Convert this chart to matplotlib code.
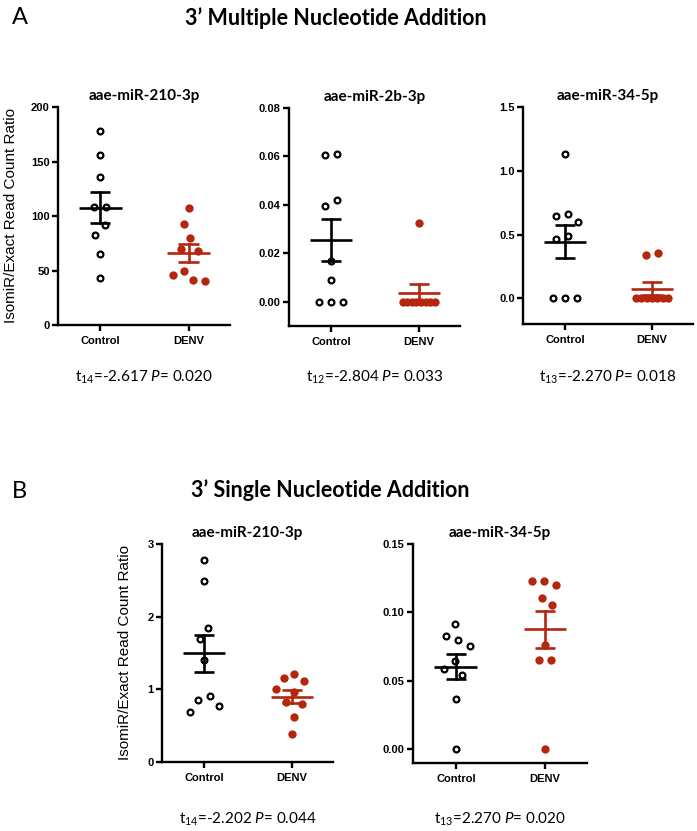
import numpy as np
import matplotlib
matplotlib.use("Agg")
import matplotlib.pyplot as plt

plt.rcParams['font.family'] = ['Lato', 'DejaVu Sans']
plt.rcParams['mathtext.fontset'] = 'custom'
plt.rcParams['mathtext.rm'] = 'Lato'
plt.rcParams['mathtext.it'] = 'Lato:italic'

# ---- data ----
groups = ['Control', 'DENV']

a1_ctrl = [178, 156, 136, 108, 108, 92, 83, 65, 43]
a1_denv = [107, 93, 80, 70, 68, 50, 46, 40, 41]

a2_ctrl = [0.0606, 0.0610, 0.0419, 0.0397, 0.0170, 0.0091, 0.0, 0.0, 0.0]
a2_denv = [0.0324, 0.0, 0.0, 0.0, 0.0, 0.0, 0.0, 0.0, 0.0]

a3_ctrl = [1.134, 0.66, 0.65, 0.597, 0.487, 0.469, 0.0, 0.0, 0.0]
a3_denv = [0.356, 0.338, 0.0, 0.0, 0.0, 0.0, 0.0, 0.0, 0.0]

b1_ctrl = [2.78, 2.49, 1.85, 1.69, 1.40, 0.91, 0.86, 0.77, 0.69]
b1_denv = [1.21, 1.15, 1.11, 1.01, 0.96, 0.82, 0.80, 0.62, 0.39]

b2_ctrl = [0.0914, 0.0830, 0.0795, 0.0753, 0.0644, 0.0588, 0.0546, 0.0366, 0.0]
b2_denv = [0.1229, 0.1229, 0.1200, 0.1107, 0.1053, 0.0761, 0.0656, 0.0656, 0.0]

titles_a = ['aae-miR-210-3p', 'aae-miR-2b-3p', 'aae-miR-34-5p']
titles_b = ['aae-miR-210-3p', 'aae-miR-34-5p']
stats_a = [('14', '-2.617', '0.020'), ('12', '-2.804', '0.033'), ('13', '-2.270', '0.018')]
stats_b = [('14', '-2.202', '0.044'), ('13', '2.270', '0.020')]

RED = '#b5260e'
W, H = 697, 831

fig = plt.figure(figsize=(W / 100, H / 100), dpi=100)


def rect(l, r, t, b):
    return [l / W, 1 - b / H, (r - l) / W, (b - t) / H]


def swarm(ax, values, dx_px=12.0, dy_px=17.0, cap_px=16.0):
    """GraphPad-like beeswarm offsets (in x data units)."""
    v = np.asarray(values, float)
    n = len(v)
    ys = ax.transData.transform(np.column_stack([np.zeros(n), v]))[:, 1]
    ppu = ax.transData.transform((1, 0))[0] - ax.transData.transform((0, 0))[0]
    offs = np.zeros(n)
    placed = []
    for i in np.argsort(-v, kind='stable'):
        ivs = []
        for j in placed:
            dy = abs(ys[i] - ys[j])
            if dy < dy_px:
                w = dx_px * np.sqrt(1 - (dy / dy_px) ** 2)
                ivs.append((offs[j] - w, offs[j] + w))
        cands = [0.0] + [e for iv in ivs for e in iv]
        cands.sort(key=lambda c: (abs(c), c))
        for c in cands:
            if all(not (lo + 1e-6 < c < hi - 1e-6) for lo, hi in ivs):
                offs[i] = c
                break
        placed.append(i)
    # centre each chained cluster and squeeze wide ones
    order = np.argsort(ys)
    comps, cur = [], [order[0]]
    for a, b in zip(order[:-1], order[1:]):
        if ys[b] - ys[a] < dy_px:
            cur.append(b)
        else:
            comps.append(cur)
            cur = [b]
    comps.append(cur)
    for c in comps:
        c = np.array(c)
        offs[c] -= offs[c].mean()
        hw = np.abs(offs[c]).max()
        if hw > cap_px:
            offs[c] *= cap_px / hw
    return offs / ppu


def panel(r, ylim, ticks, fmt, ctrl, denv, title, ylabel=None, ylabel_x=None):
    ax = fig.add_axes(rect(*r))
    ax.set_xlim(-0.48, 1.47)
    ax.set_ylim(*ylim)
    for s in ['top', 'right']:
        ax.spines[s].set_visible(False)
    for s in ['left', 'bottom']:
        ax.spines[s].set_linewidth(1.7)
    ax.spines['left'].set_bounds(ylim[0], ylim[1])
    ax.set_yticks(ticks)
    ax.set_yticklabels([fmt.format(t) for t in ticks])
    ax.set_xticks([0, 1])
    ax.set_xticklabels(groups)
    ax.tick_params(axis='both', direction='out', length=4, width=1.7, pad=2)
    for lab in ax.get_yticklabels() + ax.get_xticklabels():
        lab.set_fontfamily('Liberation Sans')
        lab.set_fontweight('bold')
        lab.set_fontsize(8)
    ax.tick_params(axis='x', pad=4)

    for k, (vals, col) in enumerate([(ctrl, 'black'), (denv, RED)]):
        vals = np.asarray(vals, float)
        xs = k + swarm(ax, vals)
        if col == 'black':
            ax.plot(xs, vals, 'o', ms=4.2, mfc='white', mec='black', mew=1.6,
                    ls='none', zorder=3, clip_on=False)
        else:
            ax.plot(xs, vals, 'o', ms=6.0, mfc=RED, mec='none',
                    ls='none', zorder=3, clip_on=False)
        m = vals.mean()
        se = vals.std(ddof=1) / np.sqrt(len(vals))
        ax.plot([k - 0.24, k + 0.24], [m, m], color=col, lw=1.9, zorder=4,
                solid_capstyle='butt')
        ax.plot([k, k], [m - se, m + se], color=col, lw=1.9, zorder=4)
        for e in (m - se, m + se):
            ax.plot([k - 0.115, k + 0.115], [e, e], color=col, lw=1.9,
                    zorder=4, solid_capstyle='butt')

    ax.set_title(title, fontsize=11, fontweight='bold', pad=5)
    if ylabel:
        fig.text(ylabel_x / W, 1 - (r[2] + r[3]) / 2 / H, ylabel, rotation=90,
                 ha='center', va='center', fontsize=11,
                 family='Liberation Sans')
    return ax


def stat_text(r, y_px, st):
    df, t, p = st
    fig.text((r[0] + r[1]) / 2 / W, 1 - y_px / H,
             r't$_{%s}$=%s $\mathit{P}$= %s' % (df, t, p),
             ha='center', va='center', fontsize=11)


ylab = 'IsomiR/Exact Read Count Ratio'

# ---- A ----
ra = [(58, 230, 107, 325), (289, 460, 108, 326), (523, 693, 107, 324)]
panel(ra[0], (0, 200), [0, 50, 100, 150, 200], '{:.0f}', a1_ctrl, a1_denv,
      titles_a[0], ylab, 11)
panel(ra[1], (-0.01, 0.08), [0, 0.02, 0.04, 0.06, 0.08], '{:.2f}', a2_ctrl,
      a2_denv, titles_a[1])
panel(ra[2], (-0.2, 1.5), [0, 0.5, 1.0, 1.5], '{:.1f}', a3_ctrl, a3_denv,
      titles_a[2])
for r, st in zip(ra, stats_a):
    stat_text(r, 377, st)

# ---- B ----
rb = [(162, 333, 544, 762), (413, 587, 544, 763)]
panel(rb[0], (0, 3), [0, 1, 2, 3], '{:.0f}', b1_ctrl, b1_denv, titles_b[0],
      ylab, 125)
panel(rb[1], (-0.01, 0.15), [0, 0.05, 0.10, 0.15], '{:.2f}', b2_ctrl, b2_denv,
      titles_b[1])
for r, st in zip(rb, stats_b):
    stat_text(r, 819, st)

# headings
fig.text(12 / W, 1 - 18 / H, 'A', fontsize=17, ha='left', va='center')
fig.text(336 / W, 1 - 18 / H, '3\u2019 Multiple Nucleotide Addition',
         fontsize=15.5, fontweight='bold', ha='center', va='center')
fig.text(12 / W, 1 - 492 / H, 'B', fontsize=17, ha='left', va='center')
fig.text(330 / W, 1 - 490 / H, '3\u2019 Single Nucleotide Addition',
         fontsize=15.5, fontweight='bold', ha='center', va='center')

fig.savefig('out.png', dpi=100)
